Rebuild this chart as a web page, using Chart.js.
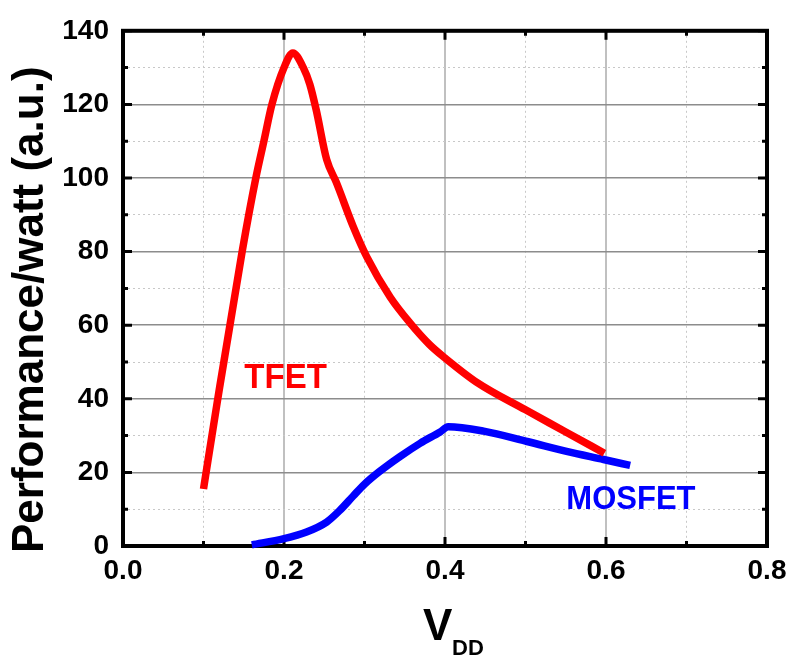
<!DOCTYPE html>
<html>
<head>
<meta charset="utf-8">
<script src="https://cdn.jsdelivr.net/npm/chart.js@4.4.1/dist/chart.umd.min.js"></script>
<style>
  html, body { margin: 0; padding: 0; background: #fff; }
  canvas { display: block; }
</style>
</head>
<body>
<canvas id="pwChart" width="790" height="658"></canvas>
<script>
// --- DATA ---
// TFET curve
const tfetVdd = [0.100, 0.117, 0.148, 0.165, 0.175, 0.185, 0.200, 0.211,
                 0.224, 0.232, 0.240, 0.253, 0.265, 0.286, 0.303, 0.332, 0.357,
                 0.381, 0.400, 0.440, 0.500, 0.550, 0.598];
const tfetPerf = [15.5, 39, 80, 100, 110, 120, 130, 134,
                  130, 125.5, 118.5, 105, 98.8, 86.8, 78.5, 67.6, 60.5,
                  54.7, 51.1, 44.4, 37.0, 31.0, 25.2];

// MOSFET curve
const mosVdd = [0.160, 0.200, 0.228, 0.253, 0.269, 0.286, 0.300, 0.319, 0.344, 0.369,
                0.394, 0.404, 0.448, 0.502, 0.551, 0.597, 0.630];
const mosPerf = [0.3, 2, 3.8, 6.5, 9.6, 13.6, 16.8, 20.3, 24.3, 27.9,
                 31, 32.4, 31.2, 28.4, 25.7, 23.5, 21.9];

// curve labels: [text, vdd, perf, color, font size]
const curveLabels = [
  ["TFET", 0.202, 45.5, "#ff0000", 33],
  ["MOSFET", 0.631, 12.6, "#0000ff", 31]
];

const FONT = "'Liberation Sans', Arial, sans-serif";

const toPoints = (xs, ys) => xs.map((x, i) => ({ x: x, y: ys[i] }));

const isMajorX = v => Math.round(v * 10) % 2 === 0;
const isMajorY = v => Math.round(v) % 20 === 0;

// --- FRAME + INWARD TICKS + TITLES ---
const framePlugin = {
  id: "frame",
  beforeDatasetsDraw(chart) {
    const { ctx, chartArea: a, scales: { x, y } } = chart;
    ctx.save();
    ctx.strokeStyle = "#000";
    ctx.lineWidth = 3;
    ctx.lineCap = "butt";

    x.ticks.forEach(t => {
      const px = x.getPixelForValue(t.value);
      const len = isMajorX(t.value) ? 9 : 5;
      ctx.beginPath();
      ctx.moveTo(px, a.bottom); ctx.lineTo(px, a.bottom - len);
      ctx.moveTo(px, a.top); ctx.lineTo(px, a.top + len);
      ctx.stroke();
    });
    y.ticks.forEach(t => {
      const py = y.getPixelForValue(t.value);
      const len = isMajorY(t.value) ? 9 : 5;
      ctx.beginPath();
      ctx.moveTo(a.left, py); ctx.lineTo(a.left + len, py);
      ctx.moveTo(a.right, py); ctx.lineTo(a.right - len, py);
      ctx.stroke();
    });

    ctx.lineWidth = 4;
    ctx.strokeRect(a.left, a.top, a.right - a.left, a.bottom - a.top);
    ctx.restore();
  },
  afterDraw(chart) {
    const { ctx, scales: { x, y } } = chart;
    ctx.save();
    ctx.fillStyle = "#000";
    ctx.textBaseline = "alphabetic";
    ctx.textAlign = "left";

    // y axis title
    ctx.font = "bold 44px " + FONT;
    ctx.translate(43, 553);
    ctx.rotate(-Math.PI / 2);
    ctx.fillText("Performance/watt (a.u.)", 0, 0);
    ctx.setTransform(1, 0, 0, 1, 0, 0);

    // x axis title with subscript
    ctx.font = "bold 44px " + FONT;
    ctx.fillText("V", 423, 640);
    ctx.font = "bold 22px " + FONT;
    ctx.fillText("DD", 452, 655);

    // curve labels, slightly stretched vertically
    ctx.textAlign = "center";
    ctx.textBaseline = "middle";
    curveLabels.forEach(([text, vx, vy, color, size]) => {
      ctx.save();
      ctx.font = "bold " + size + "px " + FONT;
      ctx.fillStyle = color;
      ctx.translate(x.getPixelForValue(vx), y.getPixelForValue(vy));
      ctx.scale(1, 1.08);
      ctx.fillText(text, 0, 0);
      ctx.restore();
    });
    ctx.restore();
  }
};

// --- CHART ---
new Chart(document.getElementById("pwChart"), {
  type: "line",
  data: {
    datasets: [
      {
        label: "TFET",
        data: toPoints(tfetVdd, tfetPerf),
        borderColor: "#ff0000",
        borderWidth: 7.5,
        pointRadius: 0,
        cubicInterpolationMode: "monotone",
        clip: false
      },
      {
        label: "MOSFET",
        data: toPoints(mosVdd, mosPerf),
        borderColor: "#0000ff",
        borderWidth: 7.5,
        pointRadius: 0,
        cubicInterpolationMode: "monotone",
        clip: false
      }
    ]
  },
  options: {
    responsive: false,
    animation: false,
    devicePixelRatio: 1,
    layout: { padding: { top: 23, right: 23, left: 0, bottom: 0 } },
    plugins: { legend: { display: false }, tooltip: { enabled: false } },
    scales: {
      x: {
        type: "linear",
        min: 0,
        max: 0.8,
        afterFit: s => {
          s.height = 112;
          s.paddingLeft = 0;
          s.paddingRight = 0;
        },
        ticks: {
          stepSize: 0.1,
          autoSkip: false,
          maxRotation: 0,
          padding: 8,
          color: "#000",
          font: { family: FONT, size: 28, weight: "bold" },
          callback: v => isMajorX(v) ? v.toFixed(1) : ""
        },
        grid: {
          drawTicks: false,
          color: c => isMajorX(c.tick.value) ? "#c0c0c0" : "#c8c8c8",
          lineWidth: c => isMajorX(c.tick.value) ? 2 : 1
        },
        border: {
          display: false,
          dash: c => (c.tick && !isMajorX(c.tick.value)) ? [2, 3] : []
        }
      },
      y: {
        min: 0,
        max: 140,
        afterFit: s => { s.width = 123; },
        ticks: {
          stepSize: 10,
          autoSkip: false,
          padding: 14,
          color: "#000",
          font: { family: FONT, size: 28, weight: "bold" },
          callback: v => isMajorY(v) ? String(v) : ""
        },
        grid: {
          drawTicks: false,
          color: c => isMajorY(c.tick.value) ? "#8c8c8c" : "#c8c8c8",
          lineWidth: c => isMajorY(c.tick.value) ? 1.5 : 1
        },
        border: {
          display: false,
          dash: c => (c.tick && !isMajorY(c.tick.value)) ? [2, 3] : []
        }
      }
    }
  },
  plugins: [framePlugin]
});
</script>
</body>
</html>
